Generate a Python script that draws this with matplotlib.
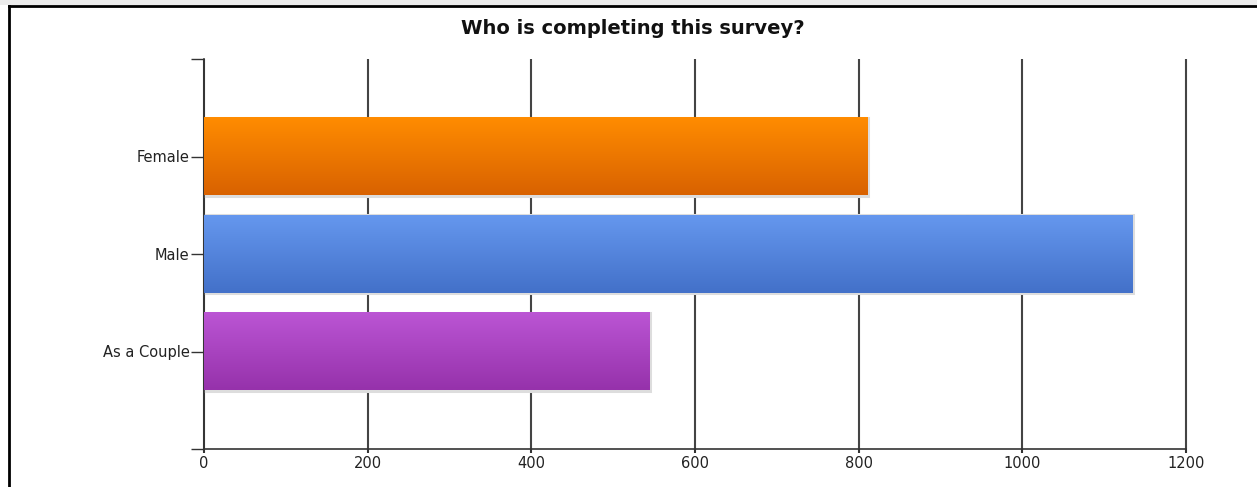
import numpy as np
import matplotlib
matplotlib.use("Agg")
import matplotlib.pyplot as plt
from matplotlib.colors import LinearSegmentedColormap
from matplotlib.lines import Line2D
from matplotlib.patches import Rectangle

categories = ["Female", "Male", "As a Couple"]
counts = [811, 1135, 545]
top_colors = ["#ff8c00", "#6597ee", "#bb55d4"]
bottom_colors = ["#d96200", "#4371c9", "#9632ab"]
xticks = [0, 200, 400, 600, 800, 1000, 1200]

plt.rcParams["font.family"] = ["DejaVu Sans"]

fig = plt.figure(figsize=(12.57, 4.87), dpi=100)
ax = fig.add_axes([204 / 1257, 38 / 487, 982 / 1257, 390 / 487])

# categories go top to bottom at y = 1, 2, 3 inside a 0..4 range
ypos = np.arange(1, len(categories) + 1)
bar_h = 0.8
grad = np.linspace(0, 1, 64).reshape(-1, 1)

for y, val, c1, c2 in zip(ypos, counts, top_colors, bottom_colors):
    cmap = LinearSegmentedColormap.from_list("g", [c1, c2])
    ax.imshow(grad, cmap=cmap, aspect="auto", interpolation="bilinear",
              extent=[0, val, y + bar_h / 2, y - bar_h / 2], zorder=3)
    ax.add_patch(Rectangle((0, y - bar_h / 2), val, bar_h, fill=False,
                           edgecolor="#dddddd", linewidth=2.2, zorder=2.5))

ax.set_xlim(0, 1200)
ax.set_ylim(4, 0)

ax.set_xticks(xticks)
ax.set_xticklabels([str(t) for t in xticks], fontsize=10.5, color="#222222")
ax.set_yticks(ypos)
ax.set_yticklabels(categories, fontsize=10.5, color="#222222")
ax.set_yticks([0, 4], minor=True)
ax.tick_params(axis="y", which="both", length=9.5, width=1, color="#333333", pad=1)
ax.tick_params(axis="x", length=3, width=1.5, color="#333333", pad=2)

ax.grid(axis="x", color="#444444", linewidth=1.5, zorder=1)
for gl in ax.get_xgridlines():
    gl.set_clip_on(False)
    gl.set_solid_capstyle("butt")
ax.set_axisbelow(True)
for side in ["top", "right"]:
    ax.spines[side].set_visible(False)
ax.spines["left"].set_color("#333333")
ax.spines["bottom"].set_color("#333333")
ax.spines["left"].set_linewidth(1.2)
ax.spines["bottom"].set_linewidth(1.2)

fig.text(633 / 1257, 1 - 28 / 487, "Who is completing this survey?",
         ha="center", va="center", fontsize=14, fontweight="bold", color="#111111")

# window frame around the chart
fig.add_artist(Rectangle((0, 1 - 5 / 487), 1, 5 / 487, transform=fig.transFigure,
                         facecolor="#ececec", edgecolor="none"))
fig.add_artist(Line2D([8.5 / 1257, 1], [1 - 6 / 487, 1 - 6 / 487],
                      transform=fig.transFigure, color="black", linewidth=2))
fig.add_artist(Line2D([8.5 / 1257, 8.5 / 1257], [0, 1 - 6 / 487],
                      transform=fig.transFigure, color="black", linewidth=2))

fig.savefig("out.png", dpi=100)
